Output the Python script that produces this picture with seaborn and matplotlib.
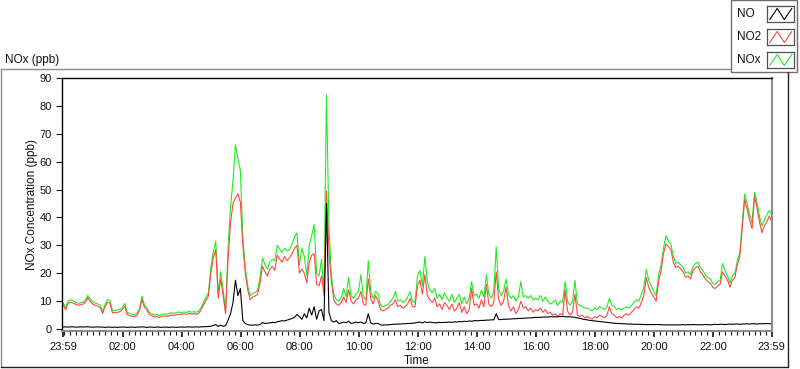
#!/usr/bin/env python3
import numpy as np
import pandas as pd
import matplotlib
matplotlib.use("Agg")
import matplotlib.pyplot as plt
from matplotlib.lines import Line2D
from matplotlib.patches import Rectangle
import seaborn as sns

# 5-minute readings from 23:59 to 23:59 (one row per hour)
no2_ppb = [
    8.6, 6.8, 9.4, 9.6, 9.3, 8.9, 8.5, 8.7, 8.9, 9.6, 11.3, 9.9,
    9.0, 8.5, 8.2, 7.8, 5.6, 8.0, 9.6, 9.3, 5.8, 5.9, 6.0, 6.2,
    7.0, 8.3, 5.2, 4.8, 4.6, 4.5, 5.0, 6.5, 10.6, 7.8, 6.8, 5.2,
    4.8, 4.3, 4.5, 4.2, 4.6, 4.7, 4.6, 4.8, 5.0, 4.9, 5.1, 5.3,
    5.2, 5.5, 5.3, 5.6, 5.4, 5.5, 5.3, 5.6, 6.8, 8.6, 10.3, 11.8,
    20.0, 25.5, 28.5, 11.0, 18.0, 12.0, 5.5, 25.0, 38.0, 45.0, 47.0, 48.5,
    45.5, 30.0, 20.0, 14.0, 10.5, 11.5, 11.8, 12.5, 16.5, 22.5, 20.5, 19.0,
    21.5, 22.5, 21.0, 26.5, 25.0, 24.0, 26.0, 24.5, 25.5, 27.0, 29.0, 30.0,
    20.0, 21.5, 20.0, 16.5, 24.0, 26.5, 27.0, 16.0, 15.5, 19.0, 12.0, 49.5,
    28.0, 17.0, 10.5, 9.0, 8.5, 9.5, 11.5, 9.5, 14.0, 10.0, 9.0, 10.5,
    11.0, 13.5, 9.0, 8.5, 18.0, 11.0, 9.0, 12.0, 10.0, 7.0, 6.5, 7.0,
    7.5, 8.5, 9.0, 10.5, 8.0, 8.5, 7.5, 8.0, 9.0, 11.0, 8.0, 8.0,
    15.5, 17.5, 12.5, 19.5, 12.0, 10.5, 9.5, 11.0, 8.0, 9.0, 7.0, 9.5,
    8.5, 7.0, 9.0, 6.5, 7.5, 9.5, 6.0, 8.0, 5.5, 7.0, 14.5, 8.5,
    9.0, 7.5, 10.5, 8.0, 16.0, 9.0, 8.0, 9.5, 20.5, 10.5, 8.5, 10.0,
    15.0, 8.5, 6.5, 8.0, 5.5, 7.0, 10.0, 7.5, 8.0, 6.5, 7.5, 6.0,
    7.0, 6.5, 7.5, 6.0, 7.0, 5.5, 6.0, 5.0, 5.5, 4.5, 5.5, 5.0,
    14.0, 6.5, 5.0, 6.0, 12.5, 5.0, 4.5, 5.0, 4.0, 4.5, 4.0, 3.5,
    4.5, 4.0, 5.0, 4.5, 4.0, 5.0, 8.0, 5.5, 5.0, 4.0, 4.5, 4.0,
    5.0, 5.5, 5.0, 6.0, 7.0, 8.0, 7.5, 9.5, 12.0, 18.5, 15.0, 13.0,
    11.5, 10.0, 17.0, 21.0, 27.0, 30.5, 29.5, 28.5, 24.0, 22.0, 22.5, 21.5,
    20.5, 18.5, 19.0, 18.0, 21.0, 22.0, 22.5, 20.5, 19.5, 18.0, 17.0, 16.5,
    15.0, 14.5, 15.5, 16.0, 20.5, 19.0, 17.5, 15.0, 17.5, 18.5, 23.0, 26.0,
    36.0, 46.5, 43.0, 39.0, 36.0, 47.5, 43.5, 38.5, 34.5, 37.0, 38.5, 40.5,
    38.5,
]

nox_ppb = [
    9.4, 7.6, 10.2, 10.5, 10.1, 9.6, 9.2, 9.4, 9.6, 10.4, 12.1, 10.7,
    9.8, 9.3, 9.0, 8.6, 6.3, 8.8, 10.6, 10.2, 6.6, 6.6, 6.8, 7.0,
    7.8, 9.2, 6.0, 5.5, 5.3, 5.2, 5.7, 7.3, 11.8, 8.6, 7.6, 5.9,
    5.5, 5.0, 5.2, 4.9, 5.3, 5.4, 5.3, 5.6, 5.8, 5.6, 5.9, 6.1,
    5.9, 6.1, 6.0, 6.3, 6.1, 6.2, 6.0, 6.4, 7.6, 9.5, 11.4, 13.0,
    22.0, 27.5, 31.5, 12.5, 20.5, 14.0, 6.5, 29.0, 44.0, 53.0, 66.0, 61.0,
    57.0, 33.0, 22.0, 15.5, 12.0, 12.8, 13.0, 14.0, 18.5, 25.5, 23.0, 21.5,
    24.0, 25.0, 24.5, 30.0, 28.5, 27.5, 29.0, 28.0, 28.5, 30.5, 33.0, 34.5,
    23.0, 29.0, 26.0, 19.0, 30.0, 33.5, 37.5, 20.0, 19.0, 25.0, 13.5, 84.0,
    37.0, 19.0, 12.5, 10.5, 10.0, 11.0, 14.5, 11.5, 18.5, 12.0, 11.0, 12.5,
    13.5, 19.5, 11.5, 10.5, 24.5, 13.5, 11.0, 13.5, 12.5, 8.5, 8.0, 8.5,
    8.7, 10.0, 11.0, 13.5, 10.0, 10.5, 9.5, 10.0, 11.5, 13.5, 10.0, 9.5,
    19.0, 21.0, 15.5, 26.0, 17.0, 14.0, 13.0, 14.5, 11.0, 12.5, 10.5, 13.0,
    11.0, 10.0, 12.5, 9.5, 11.0, 12.5, 9.0, 11.5, 9.0, 11.0, 17.0, 12.0,
    12.5, 11.0, 14.0, 11.5, 19.5, 12.5, 11.0, 13.5, 29.5, 14.5, 12.0, 13.5,
    18.0, 12.5, 11.0, 12.0, 10.0, 11.5, 17.0, 11.5, 12.0, 11.0, 12.0, 10.5,
    11.0, 10.5, 12.0, 10.0, 11.5, 10.0, 9.0, 9.5, 10.5, 8.5, 10.0, 9.5,
    17.0, 10.0, 8.5, 10.0, 17.5, 9.0, 8.5, 8.0, 7.5, 7.5, 7.0, 6.5,
    7.5, 7.0, 8.0, 7.5, 7.0, 8.0, 11.0, 8.5, 8.0, 7.0, 7.5, 7.0,
    7.5, 8.0, 7.5, 8.5, 9.5, 10.5, 10.0, 12.5, 15.0, 21.5, 17.5, 15.5,
    13.5, 12.0, 19.5, 23.0, 29.0, 33.5, 31.5, 30.5, 26.0, 23.5, 24.0, 23.0,
    22.0, 20.0, 20.5, 19.5, 22.5, 23.5, 24.0, 22.0, 21.0, 19.5, 18.5, 18.0,
    16.5, 16.0, 17.0, 17.5, 23.5, 21.0, 19.0, 16.5, 19.0, 20.0, 24.5, 27.5,
    38.0, 48.5, 45.0, 41.0, 38.0, 49.0, 45.5, 40.5, 37.0, 39.0, 41.0, 42.5,
    41.0,
]

no_ppb = [
    0.7, 0.8, 0.7, 0.8, 0.8, 0.7, 0.7, 0.8, 0.7, 0.8, 0.8, 0.7,
    0.7, 0.7, 0.8, 0.7, 0.7, 0.6, 0.7, 0.7, 0.6, 0.7, 0.6, 0.7,
    0.7, 0.7, 0.6, 0.7, 0.7, 0.6, 0.7, 0.7, 0.8, 0.7, 0.6, 0.7,
    0.7, 0.6, 0.7, 0.7, 0.6, 0.7, 0.7, 0.6, 0.7, 0.7, 0.6, 0.7,
    0.7, 0.7, 0.7, 0.8, 0.7, 0.7, 0.8, 0.7, 0.8, 0.8, 0.9, 0.9,
    1.0, 1.3, 1.6, 0.9, 1.4, 1.0, 1.2, 3.2, 5.5, 9.5, 17.5, 12.0,
    14.5, 3.0, 2.0, 1.6, 1.4, 1.4, 1.5, 1.4, 1.6, 2.3, 2.0, 2.1,
    2.2, 2.4, 2.3, 2.6, 2.8, 3.0, 2.9, 3.2, 3.5, 3.8, 4.2, 5.2,
    4.5, 3.5, 5.5, 4.0, 7.5, 5.0, 8.0, 3.5, 6.5, 7.0, 3.0, 45.0,
    6.0, 3.0, 2.5, 3.0, 2.0, 2.2, 2.5, 2.3, 2.8, 2.0, 2.2, 2.5,
    2.3, 2.5, 2.0, 2.2, 5.5, 2.2, 1.8, 2.0, 2.0, 1.5, 1.4, 1.5,
    1.5, 1.6, 1.7, 1.7, 1.8, 1.8, 1.9, 1.9, 2.0, 2.0, 2.1, 2.2,
    2.4, 2.5, 2.2, 2.6, 2.3, 2.5, 2.4, 2.2, 2.3, 2.4, 2.3, 2.4,
    2.4, 2.5, 2.4, 2.6, 2.5, 2.7, 2.6, 2.8, 2.7, 2.9, 2.8, 3.0,
    3.0, 3.0, 3.1, 3.1, 3.2, 3.2, 3.3, 3.3, 5.5, 3.4, 3.4, 3.5,
    3.5, 3.6, 3.6, 3.7, 3.7, 3.8, 3.8, 3.9, 3.9, 4.0, 4.0, 4.1,
    4.2, 4.2, 4.2, 4.3, 4.3, 4.3, 4.4, 4.4, 4.4, 4.4, 4.5, 4.5,
    4.4, 4.4, 4.4, 4.3, 4.2, 4.0, 3.8, 3.6, 3.4, 3.3, 3.1, 3.0,
    2.9, 2.8, 2.7, 2.6, 2.5, 2.4, 2.3, 2.2, 2.1, 2.0, 2.0, 1.9,
    1.9, 1.8, 1.8, 1.8, 1.7, 1.7, 1.7, 1.7, 1.6, 1.6, 1.6, 1.6,
    1.6, 1.6, 1.6, 1.6, 1.5, 1.5, 1.5, 1.5, 1.5, 1.5, 1.5, 1.5,
    1.6, 1.5, 1.6, 1.5, 1.6, 1.6, 1.5, 1.6, 1.5, 1.6, 1.6, 1.5,
    1.6, 1.7, 1.6, 1.7, 1.7, 1.6, 1.7, 1.8, 1.7, 1.8, 1.8, 1.7,
    1.8, 1.8, 1.9, 1.8, 1.9, 1.9, 1.8, 1.9, 1.9, 1.9, 2.0, 1.9,
    1.9,
]

tick_minutes = [0, 121, 241, 361, 481, 601, 721, 841, 961, 1081, 1201, 1321, 1440]
tick_labels = ["23:59", "02:00", "04:00", "06:00", "08:00", "10:00", "12:00",
               "14:00", "16:00", "18:00", "20:00", "22:00", "23:59"]

series_names = ["NO", "NO2", "NOx"]
series_colors = {"NO": "#000000", "NO2": "#ff4646", "NOx": "#1eee1e"}

W, H = 800, 369


def fx(x):
    return x / W


def fy(y):
    return 1 - y / H


def main():
    minutes = np.arange(len(no2_ppb)) * 5
    df = pd.concat([
        pd.DataFrame({"minute": minutes, "ppb": nox_ppb, "species": "NOx"}),
        pd.DataFrame({"minute": minutes, "ppb": no2_ppb, "species": "NO2"}),
        pd.DataFrame({"minute": minutes, "ppb": no_ppb, "species": "NO"}),
    ], ignore_index=True)

    sns.set_theme(style="white")
    plt.rcParams["font.family"] = ["Liberation Sans", "DejaVu Sans"]
    txt = "#101020"

    fig = plt.figure(figsize=(W / 100, H / 100), dpi=100)
    ax = fig.add_axes([fx(62), fy(331), fx(772 - 62), (331 - 78) / H])

    sns.lineplot(data=df, x="minute", y="ppb", hue="species",
                 hue_order=["NOx", "NO2", "NO"], palette=series_colors,
                 estimator=None, sort=False, legend=False,
                 linewidth=0.8, ax=ax)

    ax.set_xlim(-2.5, 1440.5)
    ax.set_ylim(-0.7, 90)
    ax.set_yticks(np.arange(0, 91, 10))
    ax.set_xticks(tick_minutes)
    ax.set_xticklabels(tick_labels)
    ax.set_xticks(np.arange(1, 1440, 12), minor=True)
    ax.tick_params(axis="y", left=True, direction="out", length=4.5, width=0.8,
                   pad=3, labelsize=8, colors=txt)
    ax.tick_params(axis="x", which="major", bottom=True, direction="out",
                   length=4.5, width=1.2, pad=3.5, labelsize=8, colors=txt)
    ax.tick_params(axis="x", which="minor", bottom=True, direction="out",
                   length=3, width=0.8, color=txt)

    ax.set_xlabel("Time", fontsize=8.5, color=txt)
    ax.set_ylabel("NOx Concentration (ppb)", fontsize=8.5, color=txt)
    ax.xaxis.set_label_coords(0.5, -0.095)
    ax.yaxis.set_label_coords(-0.034, 0.5)

    for side in ["top", "left"]:
        ax.spines[side].set_color("#000000")
        ax.spines[side].set_linewidth(1.0)
    for side in ["bottom", "right"]:
        ax.spines[side].set_color("#8c8c8c")
        ax.spines[side].set_linewidth(1.5)

    # outer panel frame
    fig.add_artist(Line2D([fx(0.5), fx(731)], [fy(69), fy(69)], color="#8a8a8a", lw=1.0))
    fig.add_artist(Line2D([fx(0.5), fx(0.5)], [fy(69), fy(367)], color="#8a8a8a", lw=1.0))
    fig.add_artist(Line2D([fx(0.5), fx(788)], [fy(367), fy(367)], color="#202020", lw=1.0))
    fig.add_artist(Line2D([fx(788), fx(788)], [fy(72), fy(367)], color="#202020", lw=1.0))

    fig.text(fx(5), fy(63), "NOx (ppb)", fontsize=8.5, color=txt, va="baseline")

    # legend box in the top right corner
    fig.add_artist(Rectangle((fx(731), fy(72)), fx(66), 72 / H, transform=fig.transFigure,
                             facecolor="white", edgecolor="#6e6e6e", lw=1.0, zorder=-1))
    for i, name in enumerate(series_names):
        top = 6 + i * 23
        fig.text(fx(737), fy(top + 8), name, fontsize=8.5, color=txt, va="center")
        iax = fig.add_axes([fx(767), fy(top + 16), fx(27), 16 / H])
        iax.set_zorder(5)
        iax.plot([0.1, 0.38, 0.64, 0.92], [0.15, 0.85, 0.15, 0.85],
                 color=series_colors[name], lw=0.8)
        iax.set_xlim(0, 1)
        iax.set_ylim(0, 1)
        iax.set_xticks([])
        iax.set_yticks([])
        for s in iax.spines.values():
            s.set_color("#505050")
            s.set_linewidth(0.9)

    fig.savefig("out.png", dpi=100)


if __name__ == "__main__":
    main()
